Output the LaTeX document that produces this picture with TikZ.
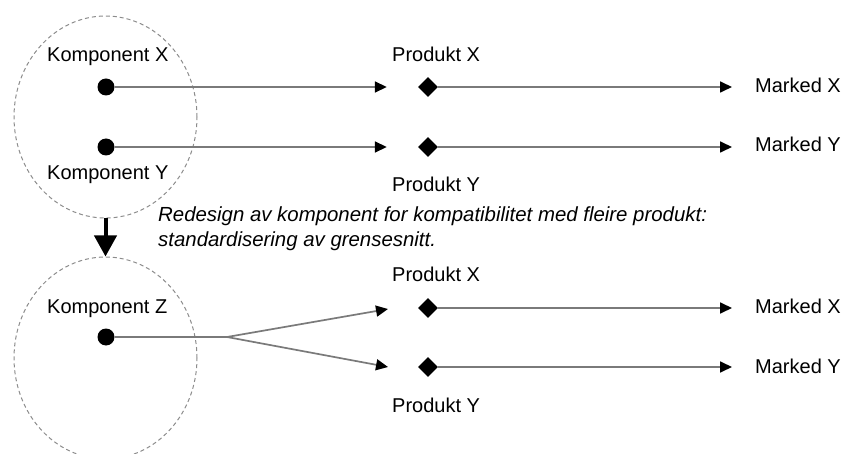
\documentclass[tikz,border=0pt]{standalone}
\usepackage{fontspec}
\setmainfont{Liberation Sans}
\usetikzlibrary{arrows.meta,shapes.geometric}
\definecolor{linegray}{HTML}{7A7A7A}
\definecolor{ringgray}{HTML}{8C8C8C}

\begin{document}
\begin{tikzpicture}[x=1pt,y=-1pt,
  lbl/.style={font=\fontsize{20}{26}\selectfont, inner sep=0pt, anchor=base west},
  dot/.style={circle, fill=black, minimum size=17pt, inner sep=0pt},
  dia/.style={diamond, fill=black, minimum size=20pt, inner sep=0pt},
  link/.style={draw=linegray, line width=1.7pt,
    -{Triangle[length=12pt,width=11pt,color=black]}},
  plainlink/.style={draw=linegray, line width=1.7pt},
  ring/.style={ellipse, draw=ringgray, line width=1pt,
    dash pattern=on 4pt off 3pt, minimum width=183pt, minimum height=202pt, inner sep=0pt}
]
\useasboundingbox (0,0) rectangle (843,454);
\clip (0,0) rectangle (843,454);

% component boundaries
\node[ring] (c1) at (105.5,117) {};
\node[ring] (c2) at (105.5,358) {};

% upper case: one component per product
\node[lbl] (tkx) at (47,62) {Komponent X};
\node[lbl] (tky) at (47,180) {Komponent Y};
\node[dot] (kx) at (106,87) {};
\node[dot] (ky) at (106,147) {};

\node[lbl] (tpx1) at (392,62) {Produkt X};
\node[lbl] (tpy1) at (392,192) {Produkt Y};
\node[dia] (px1) at (428,87) {};
\node[dia] (py1) at (428,147) {};

\node[lbl] (mx1) at (755,93) {Marked X};
\node[lbl] (my1) at (755,152) {Marked Y};

\draw[link, shorten >=31pt] (kx) -- (px1);
\draw[link, shorten >=31pt] (ky) -- (py1);
\draw[link, shorten >=23pt] (px1) -- (px1 -| mx1.west);
\draw[link, shorten >=23pt] (py1) -- (py1 -| my1.west);

% redesign note (base anchor sits on the last line)
\node[lbl, font=\fontsize{20.4}{25}\selectfont\itshape, align=left] (note) at (158,247)
  {Redesign av komponent for kompatibilitet med fleire produkt:\\standardisering av grensesnitt.};

\draw[line width=4pt, -{Triangle[length=21pt,width=22pt]}] (c1.south) -- (c2.north);

% lower case: one shared component
\node[lbl] (tkz) at (47,313) {Komponent Z};
\node[dot] (kz) at (106,337) {};
\coordinate (fork) at (227,337);
\coordinate (tx) at (388,309);
\coordinate (ty) at (388,367);

\node[lbl] (tpx2) at (392,282) {Produkt X};
\node[lbl] (tpy2) at (392,412) {Produkt Y};
\node[dia] (px2) at (428,308) {};
\node[dia] (py2) at (428,367) {};

\node[lbl] (mx2) at (755,313) {Marked X};
\node[lbl] (my2) at (755,373) {Marked Y};

\draw[plainlink] (kz) -- (fork);
\draw[link] (fork) -- (tx);
\draw[link] (fork) -- (ty);
\draw[link, shorten >=23pt] (px2) -- (px2 -| mx2.west);
\draw[link, shorten >=23pt] (py2) -- (py2 -| my2.west);
\end{tikzpicture}
\end{document}
